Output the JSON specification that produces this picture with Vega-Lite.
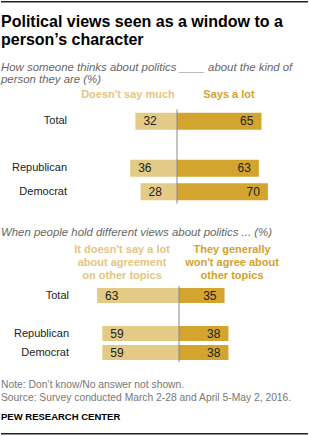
{
  "$schema": "https://vega.github.io/schema/vega-lite/v6.json",
  "padding": {"left": 1, "top": 1, "right": 0, "bottom": 0},
  "spacing": 14,
  "config": {
    "view": {"stroke": null},
    "font": "Liberation Sans",
    "title": {"font": "Liberation Sans", "subtitleFont": "Liberation Sans"}
  },
  "vconcat": [
    {
      "width": 307,
      "height": 1.5,
      "data": {"values": [{"divider": "top"}]},
      "mark": {"type": "rect", "color": "#222"},
      "encoding": {
        "x": {"datum": 0, "type": "quantitative", "scale": {"domain": [0, 1], "nice": false}, "axis": null},
        "x2": {"datum": 1}
      },
      "title": {
        "text": ["Political views seen as a window to a", "person’s character"],
        "orient": "bottom",
        "anchor": "start",
        "frame": "group",
        "baseline": "alphabetic",
        "offset": 24.5,
        "fontSize": 16,
        "fontWeight": "bold",
        "color": "#000",
        "lineHeight": 18
      }
    },
    {
      "width": 307,
      "height": {"step": 23.5},
      "title": {
        "text": ["How someone thinks about politics ____ about the kind of", "person they are (%)"],
        "anchor": "start",
        "frame": "group",
        "offset": 1,
        "fontSize": 11.4,
        "fontStyle": "italic",
        "fontWeight": "normal",
        "color": "#666",
        "lineHeight": 11.5
      },
      "data": {
        "values": [
          {"group": "Total", "doesnt_say_much": 32, "says_a_lot": 65},
          {"group": "Republican", "doesnt_say_much": 36, "says_a_lot": 63},
          {"group": "Democrat", "doesnt_say_much": 28, "says_a_lot": 70}
        ]
      },
      "encoding": {
        "y": {
          "field": "group",
          "type": "nominal",
          "scale": {"domain": ["hdr", "Total", "gap", "Republican", "Democrat"], "paddingInner": 0, "paddingOuter": 0.165, "align": 0},
          "axis": null
        }
      },
      "layer": [
        {
          "mark": {"type": "bar", "height": 17, "color": "#e3ca87"},
          "encoding": {"x": {"field": "doesnt_say_much", "type": "quantitative", "scale": {"domain": [-100.8, 135.4], "reverse": true, "nice": false}, "axis": null}}
        },
        {
          "mark": {"type": "text", "align": "left", "dx": 8, "fontSize": 12, "color": "#222"},
          "encoding": {
            "x": {"field": "doesnt_say_much", "type": "quantitative", "scale": {"domain": [-100.8, 135.4], "reverse": true, "nice": false}, "axis": null},
            "text": {"field": "doesnt_say_much", "type": "quantitative"}
          }
        },
        {
          "mark": {"type": "bar", "height": 17, "color": "#d3a52f"},
          "encoding": {"x": {"field": "says_a_lot", "type": "quantitative", "scale": {"domain": [-135.4, 100.8], "nice": false}, "axis": null}}
        },
        {
          "mark": {"type": "text", "align": "right", "dx": -8, "fontSize": 12, "color": "#222"},
          "encoding": {
            "x": {"field": "says_a_lot", "type": "quantitative", "scale": {"domain": [-135.4, 100.8], "nice": false}, "axis": null},
            "text": {"field": "says_a_lot", "type": "quantitative"}
          }
        },
        {
          "mark": {"type": "text", "align": "right", "fontSize": 11, "color": "#222"},
          "encoding": {
            "x": {"datum": -84.6, "type": "quantitative", "scale": {"domain": [-135.4, 100.8], "nice": false}, "axis": null},
            "text": {"field": "group"}
          }
        },
        {
          "data": {"values": [{"group": "Total"}, {"group": "gap"}, {"group": "Republican"}, {"group": "Democrat"}]},
          "mark": {"type": "tick", "size": 23.5, "thickness": 1, "color": "#888", "opacity": 1},
          "encoding": {"x": {"datum": 0, "type": "quantitative", "scale": {"domain": [-135.4, 100.8], "nice": false}, "axis": null}}
        },
        {
          "data": {"values": [{"group": "hdr", "label": "Doesn't say much"}]},
          "mark": {"type": "text", "fontSize": 11, "fontWeight": "bold", "color": "#e3c680", "dy": -3},
          "encoding": {
            "x": {"datum": -37.7, "type": "quantitative", "scale": {"domain": [-135.4, 100.8], "nice": false}, "axis": null},
            "text": {"field": "label"}
          }
        },
        {
          "data": {"values": [{"group": "hdr", "label": "Says a lot"}]},
          "mark": {"type": "text", "fontSize": 11, "fontWeight": "bold", "color": "#d3a22b", "dy": -3},
          "encoding": {
            "x": {"datum": 40, "type": "quantitative", "scale": {"domain": [-135.4, 100.8], "nice": false}, "axis": null},
            "text": {"field": "label"}
          }
        }
      ],
      "resolve": {"scale": {"x": "independent"}}
    },
    {
      "width": 307,
      "height": {"step": 19},
      "title": {
        "text": "When people hold different views about politics ... (%)",
        "anchor": "start",
        "frame": "group",
        "offset": 5.5,
        "fontSize": 11.4,
        "fontStyle": "italic",
        "fontWeight": "normal",
        "color": "#666"
      },
      "data": {
        "values": [
          {"group": "Total", "doesnt_say_a_lot": 63, "wont_agree_on_other_topics": 35},
          {"group": "Republican", "doesnt_say_a_lot": 59, "wont_agree_on_other_topics": 38},
          {"group": "Democrat", "doesnt_say_a_lot": 59, "wont_agree_on_other_topics": 38}
        ]
      },
      "encoding": {
        "y": {
          "field": "group",
          "type": "nominal",
          "scale": {"domain": ["hdr", "Total", "gap", "Republican", "Democrat"], "paddingInner": 0, "paddingOuter": 0.074, "align": 0},
          "axis": null
        }
      },
      "layer": [
        {
          "mark": {"type": "bar", "height": 15, "color": "#e3ca87"},
          "encoding": {"x": {"field": "doesnt_say_a_lot", "type": "quantitative", "scale": {"domain": [-99.2, 136.9], "reverse": true, "nice": false}, "axis": null}}
        },
        {
          "mark": {"type": "text", "align": "left", "dx": 8, "fontSize": 12, "color": "#222"},
          "encoding": {
            "x": {"field": "doesnt_say_a_lot", "type": "quantitative", "scale": {"domain": [-99.2, 136.9], "reverse": true, "nice": false}, "axis": null},
            "text": {"field": "doesnt_say_a_lot", "type": "quantitative"}
          }
        },
        {
          "mark": {"type": "bar", "height": 15, "color": "#d3a52f"},
          "encoding": {"x": {"field": "wont_agree_on_other_topics", "type": "quantitative", "scale": {"domain": [-136.9, 99.2], "nice": false}, "axis": null}}
        },
        {
          "mark": {"type": "text", "align": "right", "dx": -8, "fontSize": 12, "color": "#222"},
          "encoding": {
            "x": {"field": "wont_agree_on_other_topics", "type": "quantitative", "scale": {"domain": [-136.9, 99.2], "nice": false}, "axis": null},
            "text": {"field": "wont_agree_on_other_topics", "type": "quantitative"}
          }
        },
        {
          "mark": {"type": "text", "align": "right", "fontSize": 11, "color": "#222"},
          "encoding": {
            "x": {"datum": -84.6, "type": "quantitative", "scale": {"domain": [-136.9, 99.2], "nice": false}, "axis": null},
            "text": {"field": "group"}
          }
        },
        {
          "data": {"values": [{"group": "Total"}, {"group": "gap"}, {"group": "Republican"}, {"group": "Democrat"}]},
          "mark": {"type": "tick", "size": 19, "thickness": 1, "color": "#888", "opacity": 1},
          "encoding": {"x": {"datum": 0, "type": "quantitative", "scale": {"domain": [-136.9, 99.2], "nice": false}, "axis": null}}
        },
        {
          "data": {"values": [{"group": "hdr", "label": "It doesn't say a lot\nabout agreement\non other topics"}]},
          "mark": {"type": "text", "fontSize": 11, "fontWeight": "bold", "color": "#e3c680", "lineBreak": "\n", "lineHeight": 13.4, "dy": -27},
          "encoding": {
            "x": {"datum": -43.8, "type": "quantitative", "scale": {"domain": [-136.9, 99.2], "nice": false}, "axis": null},
            "text": {"field": "label"}
          }
        },
        {
          "data": {"values": [{"group": "hdr", "label": "They generally\nwon't agree about\nother topics"}]},
          "mark": {"type": "text", "fontSize": 11, "fontWeight": "bold", "color": "#d3a22b", "lineBreak": "\n", "lineHeight": 13.4, "dy": -27},
          "encoding": {
            "x": {"datum": 40.8, "type": "quantitative", "scale": {"domain": [-136.9, 99.2], "nice": false}, "axis": null},
            "text": {"field": "label"}
          }
        }
      ],
      "resolve": {"scale": {"x": "independent"}}
    },
    {
      "width": 307,
      "height": 1.5,
      "data": {"values": [{"divider": "bottom"}]},
      "mark": {"type": "rect", "color": "#222"},
      "encoding": {
        "x": {"datum": 0, "type": "quantitative", "scale": {"domain": [0, 1], "nice": false}, "axis": null},
        "x2": {"datum": 1}
      },
      "title": {
        "text": ["Note: Don’t know/No answer not shown.", "Source: Survey conducted March 2-28 and April 5-May 2, 2016."],
        "subtitle": "PEW RESEARCH CENTER",
        "orient": "top",
        "anchor": "start",
        "frame": "group",
        "offset": 12,
        "fontSize": 10.3,
        "fontWeight": "normal",
        "color": "#777",
        "lineHeight": 13.5,
        "subtitleFontSize": 9.5,
        "subtitleFontWeight": "bold",
        "subtitleColor": "#000",
        "subtitlePadding": 8
      }
    }
  ]
}
